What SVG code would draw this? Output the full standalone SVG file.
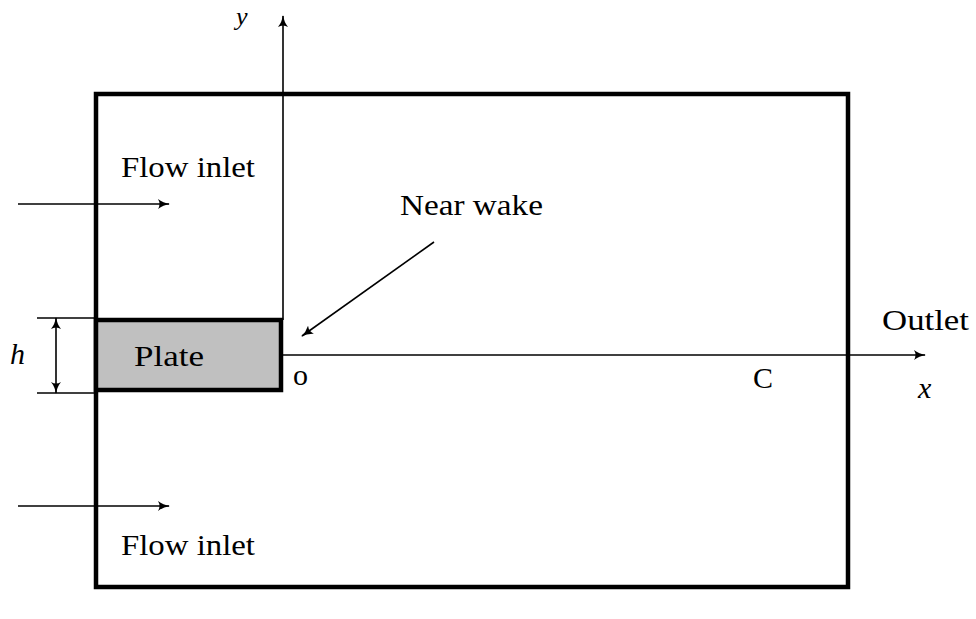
<svg xmlns="http://www.w3.org/2000/svg" width="976" height="619" viewBox="0 0 976 619">
<defs>
<style>
.t{font-family:"Liberation Serif","Times New Roman",serif;font-size:30px;fill:#000}
.i{font-style:italic}
.ln{stroke:#000;stroke-width:1.6;fill:none}
.thick{stroke:#000;stroke-width:4.5;fill:none}
</style>
<marker id="ah" viewBox="0 0 12 10" refX="11" refY="5" markerWidth="12" markerHeight="10" markerUnits="userSpaceOnUse" orient="auto-start-reverse">
<path d="M0,0 Q5,4 12,5 Q5,6 0,10 Q3,5 0,0 Z" fill="#000"/>
</marker>
</defs>
<rect width="976" height="619" fill="#fff"/>
<g id="domain">
<rect class="thick" x="96" y="94" width="752" height="493"/>
</g>
<g id="plate">
<rect x="96" y="320" width="185" height="70" fill="#c0c0c0" stroke="#000" stroke-width="4.5"/>
<text class="t" x="134" y="366" textLength="70" lengthAdjust="spacingAndGlyphs">Plate</text>
</g>
<g id="connectors">
<line class="ln" x1="283" y1="320" x2="283" y2="16" marker-end="url(#ah)"/>
<line class="ln" x1="283" y1="355" x2="925" y2="355" marker-end="url(#ah)"/>
<line class="ln" x1="18" y1="204" x2="169" y2="204" marker-end="url(#ah)"/>
<line class="ln" x1="18" y1="506" x2="169" y2="506" marker-end="url(#ah)"/>
<line class="ln" x1="434" y1="242" x2="302" y2="336" marker-end="url(#ah)"/>
<line class="ln" x1="37" y1="318" x2="96" y2="318"/>
<line class="ln" x1="37" y1="393" x2="96" y2="393"/>
<line class="ln" x1="56" y1="318" x2="56" y2="393" marker-start="url(#ah)" marker-end="url(#ah)"/>
</g>
<g id="labels">
<text class="t" x="121" y="177" textLength="134" lengthAdjust="spacingAndGlyphs">Flow inlet</text>
<text class="t" x="121" y="555" textLength="134" lengthAdjust="spacingAndGlyphs">Flow inlet</text>
<text class="t" x="400" y="215" textLength="143" lengthAdjust="spacingAndGlyphs">Near wake</text>
<text class="t" x="882" y="330" textLength="87" lengthAdjust="spacingAndGlyphs">Outlet</text>
<text class="t" x="293" y="385">o</text>
<text class="t" x="753" y="388">C</text>
<text class="t i" x="10" y="364">h</text>
<text class="t i" x="918" y="398">x</text>
<text class="t i" x="236" y="25" style="font-size:26px">y</text>
</g>
</svg>
